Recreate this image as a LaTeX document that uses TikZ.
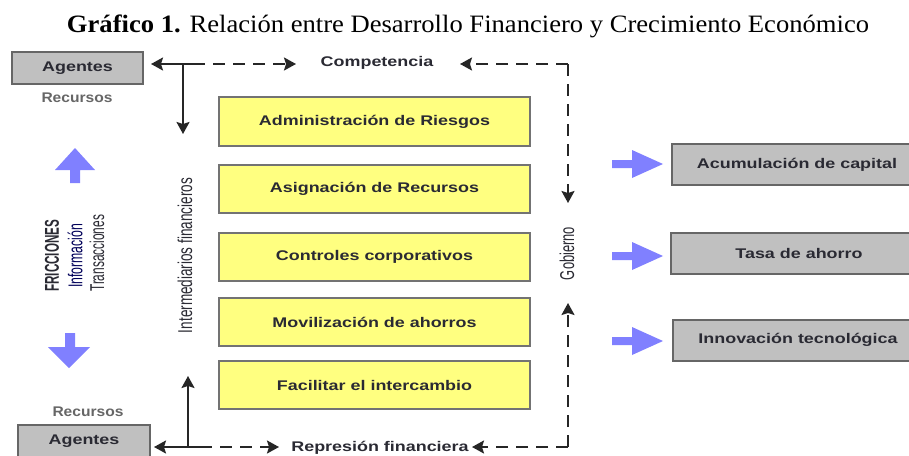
\documentclass[tikz,border=0pt]{standalone}
\usepackage{fontspec}
\usepackage{graphicx}
\setmainfont{Liberation Serif}
\newfontfamily\arial{Liberation Sans}
\usetikzlibrary{arrows.meta}
\definecolor{yel}{HTML}{FFFF80}
\definecolor{gry}{HTML}{C0C0C0}
\definecolor{blu}{HTML}{8080FF}
\definecolor{txt}{HTML}{2A2A33}
\newcommand\bx[1]{\scalebox{1.28}[1]{\arial\fontsize{14}{16}\selectfont\bfseries #1}}
\newcommand\rx[1]{\resizebox{71pt}{\height}{\arial\fontsize{14}{16}\selectfont\bfseries #1}}
\newcommand\nw[2]{\resizebox{#1pt}{\height}{\arial\fontsize{20}{22}\selectfont #2}}
\newcommand\nwb[2]{\resizebox{#1pt}{\height}{\arial\fontsize{20}{22}\selectfont\bfseries #2}}
\tikzset{
  ybox/.style={draw=black!55, line width=1.5pt, fill=yel},
  gbox/.style={draw=black!60, line width=1.5pt, fill=gry},
  lbl/.style={inner sep=0pt, text=txt},
  conn/.style={line width=2pt, black!85},
  dconn/.style={conn, dash pattern=on 12pt off 8pt},
  tip/.style={-{Stealth[length=12pt,width=13pt,inset=2pt]}},
  bluarrow/.style={fill=blu, draw=none}
}
\begin{document}
\begin{tikzpicture}[x=1pt,y=-1pt]
\useasboundingbox (0,0) rectangle (909,455);
\clip (0,0) rectangle (909,455);
% title
\node[inner sep=0pt, anchor=base] (title) at (468,32) {\resizebox{802pt}{\height}{\fontsize{25}{28}\selectfont\textbf{Gráfico 1.} Relación entre Desarrollo Financiero y Crecimiento Económico}};
% agents boxes
\draw[gbox] (12,52) rectangle (143,84);
\node[lbl] (ag1) at (77.5,68) {\bx{Agentes}};
\node[lbl, text=black!60] (rec1) at (77,98) {\rx{Recursos}};
\draw[gbox] (18,425) rectangle (150,470);
\node[lbl] (ag2) at (84,441) {\bx{Agentes}};
\node[lbl, text=black!60] (rec2) at (88,412) {\rx{Recursos}};
% yellow boxes
\draw[ybox] (219,97) rectangle (530,146);
\node[lbl] (b1) at (374.5,121.5) {\bx{Administración de Riesgos}};
\draw[ybox] (219,165) rectangle (530,213);
\node[lbl] (b2) at (374.5,189) {\bx{Asignación de Recursos}};
\draw[ybox] (219,233) rectangle (530,281);
\node[lbl] (b3) at (374.5,257) {\bx{Controles corporativos}};
\draw[ybox] (219,298) rectangle (530,346);
\node[lbl] (b4) at (374.5,322) {\bx{Movilización de ahorros}};
\draw[ybox] (219,361) rectangle (530,409);
\node[lbl] (b5) at (374.5,385) {\bx{Facilitar el intercambio}};
% right boxes
\draw[gbox] (672,144) rectangle (930,185);
\node[lbl] (r1) at (797,164.5) {\bx{Acumulación de capital}};
\draw[gbox] (671,233) rectangle (930,274);
\node[lbl] (r2) at (799,253) {\bx{Tasa de ahorro}};
\draw[gbox] (673,320) rectangle (930,361);
\node[lbl] (r3) at (798,340) {\bx{Innovación tecnológica}};
% labels on the loop
\node[lbl] (comp) at (377,63) {\bx{Competencia}};
\node[lbl] (repr) at (380,448) {\bx{Represión financiera}};
\node[lbl, rotate=90] (gob) at (567,253.5) {\nw{53}{Gobierno}};
\node[lbl, rotate=90] (inter) at (185,255.5) {\nw{155}{Intermediarios financieros}};
\node[lbl, rotate=90, anchor=west] (fric) at (52,292) {\nwb{72}{FRICCIONES}};
\node[lbl, rotate=90, anchor=west, text=blue!35!black] (info) at (75,288) {\nw{64}{Información}};
\node[lbl, rotate=90, anchor=west] (trans) at (97,292) {\nw{77}{Transacciones}};
% coordinates
\coordinate (j1) at (183,64);
\coordinate (d1) at (193,64);
\coordinate (t1) at (296,64);
\coordinate (a1) at (151,64);
\coordinate (v1) at (183,134);
\coordinate (c1) at (568,64);
\coordinate (l1) at (460,64);
\coordinate (g1) at (568,203);
\coordinate (j2) at (188,447);
\coordinate (d2) at (200,447);
\coordinate (t2) at (279,447);
\coordinate (a2) at (154,447);
\coordinate (v2) at (188,376);
\coordinate (c2) at (568,447);
\coordinate (l2) at (472,447);
\coordinate (g2) at (568,303);
% connectors top
\draw[conn, tip] (d1) -- (a1);
\draw[conn, tip] (j1) -- (v1);
\draw[dconn, tip] (d1) -- (t1);
\draw[dconn, tip] (c1) -- (l1);
\draw[dconn, tip] (c1) -- (g1);
% connectors bottom
\draw[conn, tip] (d2) -- (a2);
\draw[conn, tip] (j2) -- (v2);
\draw[dconn, tip] (d2) -- (t2);
\draw[dconn, tip] (c2) -- (l2);
\draw[dconn, tip] (c2) -- (g2);
% blue arrows
\fill[bluarrow] (70,183) -- (70,170) -- (55,170) -- (75,148) -- (95,170) -- (80,170) -- (80,183) -- cycle;
\fill[bluarrow] (65,333) -- (75,333) -- (75,347) -- (90,347) -- (69,368) -- (48,347) -- (65,347) -- cycle;
\foreach \yy in {164, 256, 341}{
  \fill[bluarrow] (612,\yy-4) -- (632,\yy-4) -- (632,\yy-14) -- (663,\yy) -- (632,\yy+14) -- (632,\yy+4) -- (612,\yy+4) -- cycle;
}
\end{tikzpicture}
\end{document}
